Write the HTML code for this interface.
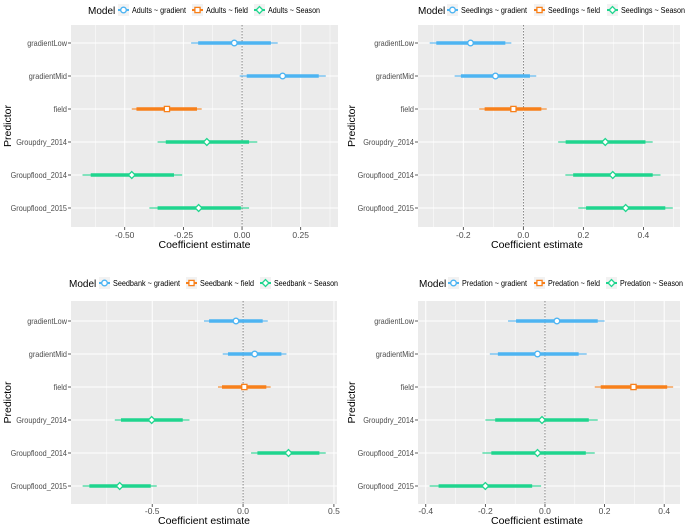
<!DOCTYPE html>
<html><head><meta charset="utf-8"><style>
body{margin:0;background:#fff;}
svg{display:block;font-family:"Liberation Sans",sans-serif;}
</style></head><body>
<svg id="c" width="685" height="525"></svg>
<script>
const predictors=["gradientLow","gradientMid","field","Groupdry_2014","Groupflood_2014","Groupflood_2015"];
const modelNames=[["Adults ~ gradient","Adults ~ field","Adults ~ Season"],["Seedlings ~ gradient","Seedlings ~ field","Seedlings ~ Season"],["Seedbank ~ gradient","Seedbank ~ field","Seedbank ~ Season"],["Predation ~ gradient","Predation ~ field","Predation ~ Season"]];
const seriesOf=[0,0,1,2,2,2];
const adultsEst=[-0.033,0.173,-0.32,-0.15,-0.47,-0.185];
const adultsThickLo=[-0.187,0.02,-0.45,-0.325,-0.645,-0.36];
const adultsThickHi=[0.123,0.327,-0.192,0.03,-0.29,-0.005];
const adultsThinLo=[-0.217,-0.01,-0.47,-0.36,-0.68,-0.395];
const adultsThinHi=[0.152,0.357,-0.172,0.065,-0.255,0.03];
const seedlingsEst=[-0.176,-0.093,-0.033,0.273,0.298,0.341];
const seedlingsThickLo=[-0.29,-0.208,-0.129,0.141,0.166,0.209];
const seedlingsThickHi=[-0.06,0.022,0.06,0.407,0.431,0.473];
const seedlingsThinLo=[-0.312,-0.229,-0.147,0.116,0.14,0.183];
const seedlingsThinHi=[-0.04,0.043,0.078,0.431,0.457,0.498];
const seedbankEst=[-0.039,0.064,0.007,-0.503,0.25,-0.679];
const seedbankThickLo=[-0.187,-0.083,-0.116,-0.672,0.079,-0.846];
const seedbankThickHi=[0.108,0.211,0.128,-0.332,0.42,-0.508];
const seedbankThinLo=[-0.215,-0.112,-0.138,-0.706,0.044,-0.883];
const seedbankThinHi=[0.136,0.239,0.152,-0.295,0.455,-0.475];
const predationEst=[0.04,-0.025,0.297,-0.01,-0.025,-0.2];
const predationThickLo=[-0.097,-0.158,0.187,-0.167,-0.18,-0.357];
const predationThickHi=[0.177,0.113,0.41,0.147,0.137,-0.043];
const predationThinLo=[-0.124,-0.185,0.167,-0.2,-0.21,-0.387];
const predationThinHi=[0.2,0.14,0.43,0.177,0.167,-0.013];
const ticksA=[-0.5,-0.25,0,0.25], tickLabA=["-0.50","-0.25","0.00","0.25"];
const ticksB=[-0.2,0,0.2,0.4], tickLabB=["-0.2","0.0","0.2","0.4"];
const ticksC=[-0.5,0,0.5], tickLabC=["-0.5","0.0","0.5"];
const ticksD=[-0.4,-0.2,0,0.2,0.4], tickLabD=["-0.4","-0.2","0.0","0.2","0.4"];

const panels=[
 {name:"adults",px:71,pw:267,py:25,ph:202,r0:43,dom:[-0.729,0.409],est:adultsEst,tl:adultsThickLo,th:adultsThickHi,nl:adultsThinLo,nh:adultsThinHi,ticks:ticksA,labs:tickLabA,step:0.25,legX:88,legY:4,keys:[118,192,254],lw:[54,42,52],tk:11,tt:21,yx:4},
 {name:"seedlings",px:418,pw:262,py:25,ph:202,r0:43,dom:[-0.351,0.522],est:seedlingsEst,tl:seedlingsThickLo,th:seedlingsThickHi,nl:seedlingsThinLo,nh:seedlingsThinHi,ticks:ticksB,labs:tickLabB,step:0.2,legX:418,legY:4,keys:[447,534,607],lw:[66,52,64],tk:11,tt:21,yx:348},
 {name:"seedbank",px:71,pw:266,py:301,ph:203,r0:321,dom:[-0.947,0.517],est:seedbankEst,tl:seedbankThickLo,th:seedbankThickHi,nl:seedbankThinLo,nh:seedbankThinHi,ticks:ticksC,labs:tickLabC,step:0.5,legX:69,legY:277,keys:[99,186,260],lw:[67,54,64],tk:10,tt:20,yx:4},
 {name:"predation",px:418,pw:262,py:301,ph:203,r0:321,dom:[-0.426,0.453],est:predationEst,tl:predationThickLo,th:predationThickHi,nl:predationThinLo,nh:predationThinHi,ticks:ticksD,labs:tickLabD,step:0.2,legX:419,legY:277,keys:[448,534,606],lw:[65,52,63],tk:10,tt:20,yx:348}
];
const colors=["#4db4f2","#f8801a","#1fd58e"];
const NS="http://www.w3.org/2000/svg";
const svg=document.getElementById("c");
function mk(t,a,p){const e=document.createElementNS(NS,t);for(const k in a)e.setAttribute(k,a[k]);(p||svg).appendChild(e);return e;}
function marker(g,s,x,y,c){
 if(s===0)return mk("circle",{cx:x,cy:y,r:2.8,fill:"#fff",stroke:c,"stroke-width":1.3},g);
 if(s===1)return mk("rect",{x:x-2.6,y:y-2.6,width:5.2,height:5.2,fill:"#fff",stroke:c,"stroke-width":1.3},g);
 return mk("path",{d:`M${x} ${y-3.4}L${x+3.4} ${y}L${x} ${y+3.4}L${x-3.4} ${y}Z`,fill:"#fff",stroke:c,"stroke-width":1.3},g);
}
panels.forEach((P,pi)=>{
 const g=mk("g",{});
 
 
 const X=v=>P.px+(v-P.dom[0])/(P.dom[1]-P.dom[0])*P.pw;
 const Y=i=>P.r0+i*33;
 const bg=mk("rect",{x:P.px,y:P.py,width:P.pw,height:P.ph,fill:"#ebebeb"},g);
 
 
 for(let i=0;i<P.ticks.length+1;i++){
  const v=P.ticks[0]-P.step/2+i*P.step;
  if(v>P.dom[0]&&v<P.dom[1])mk("line",{x1:X(v),x2:X(v),y1:P.py,y2:P.py+P.ph,stroke:"#fff","stroke-width":0.5},g);
 }
 P.ticks.forEach((t,i)=>{
  mk("line",{x1:X(t),x2:X(t),y1:P.py,y2:P.py+P.ph,stroke:"#fff","stroke-width":1},g);
  mk("line",{x1:X(t),x2:X(t),y1:P.py+P.ph,y2:P.py+P.ph+3,stroke:"#333","stroke-width":0.8},g);
  const tx=mk("text",{x:X(t),y:P.py+P.ph+P.tk,"font-size":8.5,fill:"#4d4d4d","text-anchor":"middle"},g);
  tx.textContent=P.labs[i];
  
  
 });
 predictors.forEach((p,i)=>{
  mk("line",{x1:P.px,x2:P.px+P.pw,y1:Y(i),y2:Y(i),stroke:"#fff","stroke-width":1},g);
  mk("line",{x1:P.px-3,x2:P.px,y1:Y(i),y2:Y(i),stroke:"#333","stroke-width":0.8},g);
  const tx=mk("text",{x:P.px-4,y:Y(i)+3,"font-size":8.3,fill:"#4d4d4d","text-anchor":"end"},g);
  tx.textContent=p;
  
  
  const w=tx.getComputedTextLength();
  if(w>0){tx.setAttribute('textLength',(w*0.88).toFixed(1));tx.setAttribute('lengthAdjust','spacingAndGlyphs');}
 });
 mk("line",{x1:X(0),x2:X(0),y1:P.py,y2:P.py+P.ph,stroke:"#555","stroke-width":0.7,"stroke-dasharray":"1.5,1.5"},g);
 predictors.forEach((p,i)=>{
  const c=colors[seriesOf[i]];
  const a=mk("line",{x1:X(P.nl[i]),x2:X(P.nh[i]),y1:Y(i),y2:Y(i),stroke:c,"stroke-width":1.5,"stroke-opacity":0.7},g);
  
  
  const b=mk("line",{x1:X(P.tl[i]),x2:X(P.th[i]),y1:Y(i),y2:Y(i),stroke:c,"stroke-width":3.6},g);
  
  
  const m=marker(g,seriesOf[i],X(P.est[i]),Y(i),c);
  
  
 });
 const xt=mk("text",{x:P.px+P.pw/2+(pi%2?-12:0),y:P.py+P.ph+P.tt,"font-size":10.5,fill:"#000","text-anchor":"middle"},g);
 xt.textContent="Coefficient estimate";
 
 
 const yc=P.py+P.ph/2;
 const yt=mk("text",{x:0,y:0,"font-size":10.5,fill:"#000","text-anchor":"middle",transform:`translate(${P.yx+7} ${yc}) rotate(-90)`},g);
 yt.textContent="Predictor";
 
 
 const lg=mk("g",{},g);
 
 
 const ly=P.legY;
 const mt=mk("text",{x:P.legX,y:ly+10,"font-size":10,fill:"#000"},lg);
 mt.textContent="Model";
 modelNames[pi].forEach((n,k)=>{
  const lx=P.keys[k];
  const e=mk("g",{},lg);
  
  
  mk("rect",{x:lx,y:ly,width:11,height:12,fill:"#f2f2f2"},e);
  mk("line",{x1:lx,x2:lx+11,y1:ly+6,y2:ly+6,stroke:colors[k],"stroke-width":2},e);
  marker(e,k,lx+5.5,ly+6,colors[k]);
  const t=mk("text",{x:lx+14,y:ly+9,"font-size":8,fill:"#000",textLength:P.lw[k],lengthAdjust:"spacingAndGlyphs"},e);
  t.textContent=n;
 });
});
</script>
</body></html>
